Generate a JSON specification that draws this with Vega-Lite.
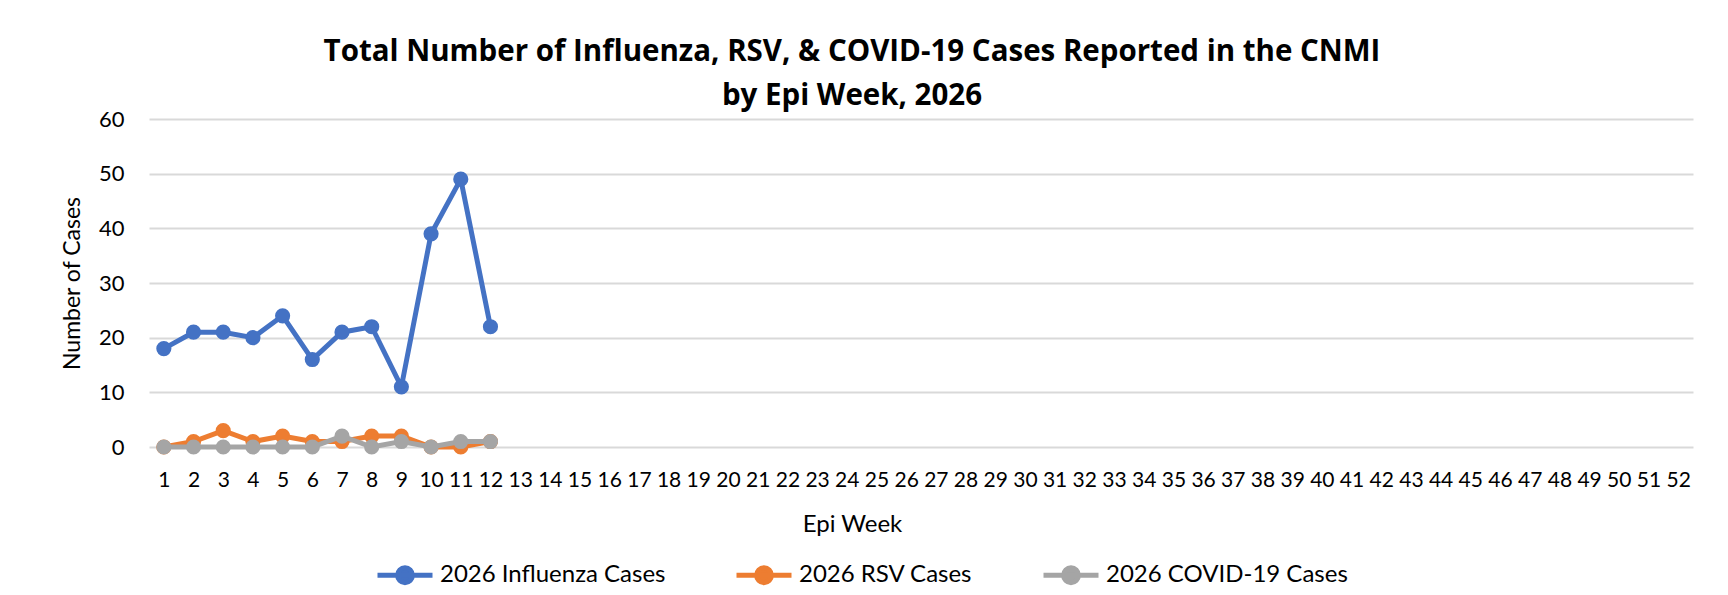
{
  "$schema": "https://vega.github.io/schema/vega-lite/v6.json",
  "width": 1544,
  "height": 328,
  "autosize": {"type": "none"},
  "padding": {"left": 149, "top": 119, "right": 35, "bottom": 148},
  "background": "white",
  "config": {"view": {"stroke": null}},
  "title": {
    "text": ["Total Number of Influenza, RSV, & COVID-19 Cases Reported in the CNMI", "by Epi Week, 2026"],
    "font": "Open Sans", "fontSize": 29.5, "fontWeight": "bold", "color": "#000000",
    "anchor": "middle", "frame": "group", "dx": -69, "offset": -3, "lineHeight": 44
  },
  "data": {"values": [
    {"week": 1, "series": "2026 Influenza Cases", "cases": 18},
    {"week": 2, "series": "2026 Influenza Cases", "cases": 21},
    {"week": 3, "series": "2026 Influenza Cases", "cases": 21},
    {"week": 4, "series": "2026 Influenza Cases", "cases": 20},
    {"week": 5, "series": "2026 Influenza Cases", "cases": 24},
    {"week": 6, "series": "2026 Influenza Cases", "cases": 16},
    {"week": 7, "series": "2026 Influenza Cases", "cases": 21},
    {"week": 8, "series": "2026 Influenza Cases", "cases": 22},
    {"week": 9, "series": "2026 Influenza Cases", "cases": 11},
    {"week": 10, "series": "2026 Influenza Cases", "cases": 39},
    {"week": 11, "series": "2026 Influenza Cases", "cases": 49},
    {"week": 12, "series": "2026 Influenza Cases", "cases": 22},
    {"week": 1, "series": "2026 RSV Cases", "cases": 0},
    {"week": 2, "series": "2026 RSV Cases", "cases": 1},
    {"week": 3, "series": "2026 RSV Cases", "cases": 3},
    {"week": 4, "series": "2026 RSV Cases", "cases": 1},
    {"week": 5, "series": "2026 RSV Cases", "cases": 2},
    {"week": 6, "series": "2026 RSV Cases", "cases": 1},
    {"week": 7, "series": "2026 RSV Cases", "cases": 1},
    {"week": 8, "series": "2026 RSV Cases", "cases": 2},
    {"week": 9, "series": "2026 RSV Cases", "cases": 2},
    {"week": 10, "series": "2026 RSV Cases", "cases": 0},
    {"week": 11, "series": "2026 RSV Cases", "cases": 0},
    {"week": 12, "series": "2026 RSV Cases", "cases": 1},
    {"week": 1, "series": "2026 COVID-19 Cases", "cases": 0},
    {"week": 2, "series": "2026 COVID-19 Cases", "cases": 0},
    {"week": 3, "series": "2026 COVID-19 Cases", "cases": 0},
    {"week": 4, "series": "2026 COVID-19 Cases", "cases": 0},
    {"week": 5, "series": "2026 COVID-19 Cases", "cases": 0},
    {"week": 6, "series": "2026 COVID-19 Cases", "cases": 0},
    {"week": 7, "series": "2026 COVID-19 Cases", "cases": 2},
    {"week": 8, "series": "2026 COVID-19 Cases", "cases": 0},
    {"week": 9, "series": "2026 COVID-19 Cases", "cases": 1},
    {"week": 10, "series": "2026 COVID-19 Cases", "cases": 0},
    {"week": 11, "series": "2026 COVID-19 Cases", "cases": 1},
    {"week": 12, "series": "2026 COVID-19 Cases", "cases": 1}
  ]},
  "encoding": {
    "x": {
      "field": "week", "type": "ordinal",
      "scale": {"type": "point", "padding": 0.5, "domain": [1,2,3,4,5,6,7,8,9,10,11,12,13,14,15,16,17,18,19,20,21,22,23,24,25,26,27,28,29,30,31,32,33,34,35,36,37,38,39,40,41,42,43,44,45,46,47,48,49,50,51,52]},
      "axis": {
        "title": "Epi Week", "titleFont": "Lato", "titleFontSize": 24, "titleFontWeight": "normal", "titleColor": "#000000",
        "titlePadding": 22, "titleX": 703,
        "labelFont": "Lato", "labelFontSize": 21, "labelColor": "#000000", "labelAngle": 0, "labelPadding": 22,
        "ticks": false, "domain": false, "grid": false
      }
    },
    "y": {
      "field": "cases", "type": "quantitative",
      "scale": {"domain": [0, 60], "nice": false},
      "axis": {
        "title": "Number of Cases", "titleFont": "Lato", "titleFontSize": 23, "titleFontWeight": "normal", "titleColor": "#000000",
        "titlePadding": 14,
        "values": [0, 10, 20, 30, 40, 50, 60],
        "labelFont": "Lato", "labelFontSize": 22, "labelColor": "#000000", "labelPadding": 25,
        "ticks": false, "domain": false, "grid": true, "gridColor": "#D9D9D9", "gridWidth": 2
      }
    },
    "color": {
      "field": "series", "type": "nominal",
      "scale": {"domain": ["2026 Influenza Cases", "2026 RSV Cases", "2026 COVID-19 Cases"], "range": ["#4472C4", "#ED7D31", "#A5A5A5"]},
      "legend": {
        "title": null, "orient": "none", "legendX": 226, "legendY": 426, "direction": "horizontal",
        "columnPadding": 60, "labelLimit": 500,
        "symbolType": "M-1,0H1M-0.27,0A0.27,0.27 0 1,0 0.27,0A0.27,0.27 0 1,0 -0.27,0Z",
        "symbolSize": 3025, "symbolStrokeWidth": 5, "symbolOpacity": 1,
        "labelFont": "Lato", "labelFontSize": 24, "labelColor": "#000000", "labelOffset": 5,
        "encode": {"symbols": {"update": {"fill": {"scale": "color", "field": "value"}, "stroke": {"scale": "color", "field": "value"}, "opacity": {"value": 1}}}}
      }
    }
  },
  "layer": [
    {"transform": [{"filter": "datum.series === '2026 Influenza Cases'"}],
     "mark": {"type": "line", "strokeWidth": 5, "point": {"filled": true, "size": 230, "opacity": 1}}},
    {"transform": [{"filter": "datum.series === '2026 RSV Cases'"}],
     "mark": {"type": "line", "strokeWidth": 5, "point": {"filled": true, "size": 230, "opacity": 1}}},
    {"transform": [{"filter": "datum.series === '2026 COVID-19 Cases'"}],
     "mark": {"type": "line", "strokeWidth": 5, "point": {"filled": true, "size": 230, "opacity": 1}}}
  ]
}
